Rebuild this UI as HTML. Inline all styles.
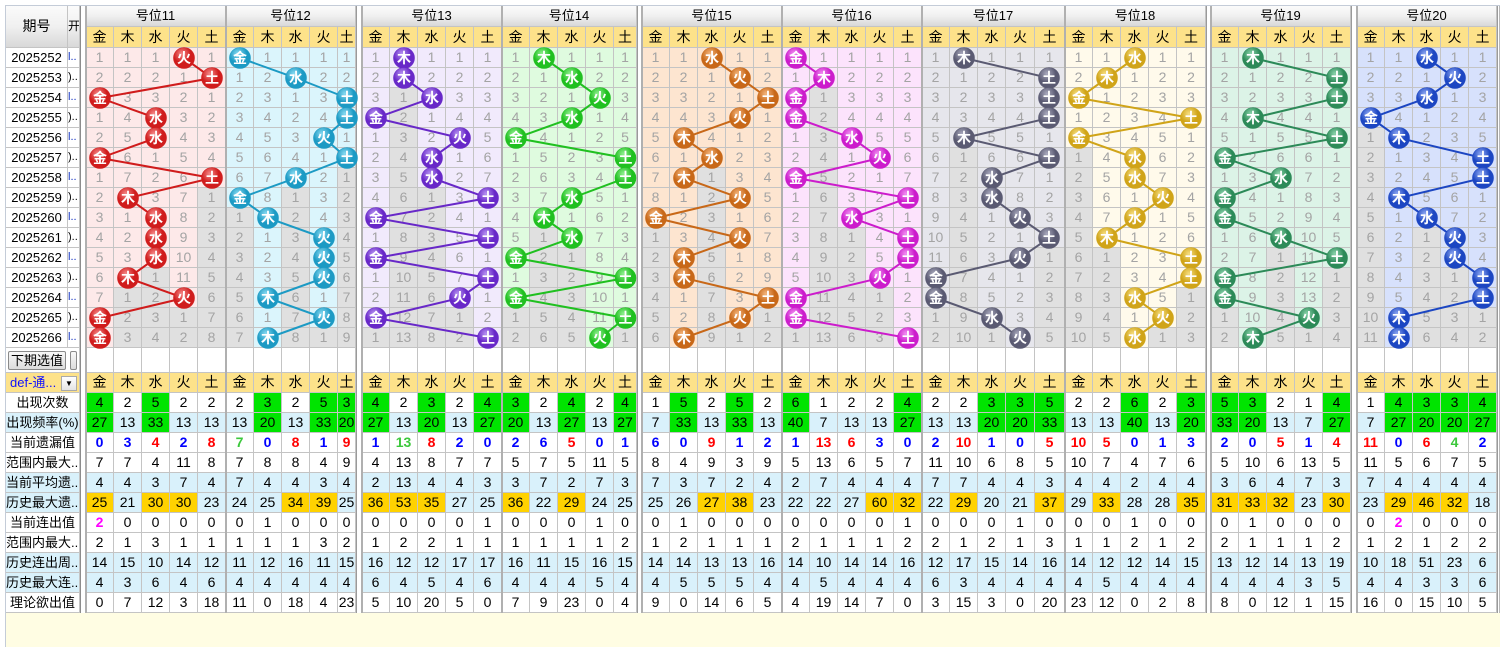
<!DOCTYPE html>
<html><head><meta charset="utf-8">
<style>
body{margin:0;width:1501px;height:647px;position:relative;overflow:hidden;background:#fff;font-family:"Liberation Sans","Noto Sans CJK SC",sans-serif}
.c{position:absolute;box-sizing:border-box;border-right:1px solid #c4c4c4;border-bottom:1px solid #c4c4c4;text-align:center;white-space:nowrap;overflow:hidden}
svg{position:absolute;left:0;top:0}
</style></head><body>
<div id="r"></div>
<svg id="s" width="1501" height="647"></svg>
<script>
var G=[
{n:11,x:86,w:[28,28,28,28,28],c:'#d01c1c',l:'#f58a8a',bg:'#fde9e9',b:[3,4,0,2,2,0,4,1,2,2,2,1,3,0,0]},
{n:12,x:226,w:[28,28,28,28,18],c:'#1c9ac4',l:'#8adbf2',bg:'#dbf5fc',b:[0,2,4,4,3,4,2,0,1,3,3,3,1,3,1]},
{n:13,x:362,w:[28,28,28,28,28],c:'#6828c8',l:'#b894f2',bg:'#f1eafc',b:[1,1,2,0,3,2,2,4,0,4,0,4,3,0,4]},
{n:14,x:502,w:[28,28,28,28,23],c:'#20c020',l:'#90f090',bg:'#dffbdf',b:[1,2,3,2,0,4,4,2,1,2,0,4,0,4,3]},
{n:15,x:642,w:[28,28,28,28,28],c:'#c86818',l:'#f4b67e',bg:'#fde5d0',b:[2,3,4,3,1,2,1,3,0,3,1,1,4,3,1]},
{n:16,x:782,w:[28,28,28,28,28],c:'#cc1ccc',l:'#f290f2',bg:'#fce3fc',b:[0,1,0,0,2,3,0,4,2,4,4,3,0,0,4]},
{n:17,x:922,w:[28,28,28,29,30],c:'#5a5a72',l:'#aaaabe',bg:'#e6e6ec',b:[1,4,4,4,1,4,2,2,3,4,3,0,0,2,3]},
{n:18,x:1065,w:[28,28,28,28,29],c:'#d0a418',l:'#f6de80',bg:'#fffaeb',b:[2,1,0,4,0,2,2,3,2,1,4,4,2,3,2]},
{n:19,x:1211,w:[28,28,28,28,28],c:'#2c8a58',l:'#8cd4ac',bg:'#dcf3e7',b:[1,4,4,1,4,0,2,0,0,2,4,0,0,3,1]},
{n:20,x:1357,w:[28,28,28,28,28],c:'#1c46c2',l:'#8ea8f2',bg:'#d7e1fc',b:[2,3,2,0,1,4,4,1,2,3,3,4,4,1,1]}
];
var ST=[
[[4,2,5,2,2],[27,13,33,13,13],[0,3,4,2,8],[7,7,4,11,8],[4,4,3,7,4],[25,21,30,30,23],[2,0,0,0,0],[2,1,3,1,1],[14,15,10,14,12],[4,3,6,4,6],[0,7,12,3,18]],
[[2,3,2,5,3],[13,20,13,33,20],[7,0,8,1,9],[7,8,8,4,9],[7,4,4,3,4],[24,25,34,39,25],[0,1,0,0,0],[1,1,1,3,2],[11,12,16,11,15],[4,4,4,4,4],[11,0,18,4,23]],
[[4,2,3,2,4],[27,13,20,13,27],[1,13,8,2,0],[4,13,8,7,7],[2,13,4,4,3],[36,53,35,27,25],[0,0,0,0,1],[1,2,2,1,1],[16,12,12,17,17],[6,4,5,4,6],[5,10,20,5,0]],
[[3,2,4,2,4],[20,13,27,13,27],[2,6,5,0,1],[5,7,5,11,5],[3,7,2,7,3],[36,22,29,24,25],[0,0,0,1,0],[1,1,1,1,2],[16,11,15,16,15],[4,4,4,5,4],[7,9,23,0,4]],
[[1,5,2,5,2],[7,33,13,33,13],[6,0,9,1,2],[8,4,9,3,9],[7,3,7,2,4],[25,26,27,38,23],[0,1,0,0,0],[1,2,1,1,1],[14,14,13,13,16],[4,5,5,5,4],[9,0,14,6,5]],
[[6,1,2,2,4],[40,7,13,13,27],[1,13,6,3,0],[5,13,6,5,7],[2,7,4,4,4],[22,22,27,60,32],[0,0,0,0,1],[2,1,1,1,2],[14,10,14,14,16],[4,5,4,4,4],[4,19,14,7,0]],
[[2,2,3,3,5],[13,13,20,20,33],[2,10,1,0,5],[11,10,6,8,5],[7,7,4,4,3],[22,29,20,21,37],[0,0,0,1,0],[2,1,2,1,3],[12,17,15,14,16],[6,3,4,4,4],[3,15,3,0,20]],
[[2,2,6,2,3],[13,13,40,13,20],[10,5,0,1,3],[10,7,4,7,6],[4,4,2,4,4],[29,33,28,28,35],[0,0,1,0,0],[1,1,2,1,2],[14,12,12,14,15],[4,5,4,4,4],[23,12,0,2,8]],
[[5,3,2,1,4],[33,20,13,7,27],[2,0,5,1,4],[5,10,6,13,5],[3,6,4,7,3],[31,33,32,23,30],[0,1,0,0,0],[2,1,1,1,2],[13,12,14,13,19],[4,4,4,3,5],[8,0,12,1,15]],
[[1,4,3,3,4],[7,27,20,20,27],[11,0,6,4,2],[11,5,6,7,5],[7,4,4,4,4],[23,29,46,32,18],[0,2,0,0,0],[1,2,1,2,2],[10,18,51,23,6],[4,4,3,3,6],[16,0,15,10,5]]
];
var GOLD=[[0,2,3],[2,3],[0,1,2],[0,2],[2,3],[3,4],[1,4],[1,4],[0,1,2,4],[1,2,3]];
var WX=['金','木','水','火','土'];
var LB=['出现次数','出现频率(%)','当前遗漏值','范围内最大...','当前平均遗...','历史最大遗...','当前连出值','范围内最大...','历史连出周...','历史最大连...','理论欲出值'];
var BLUE=[1,4,5,8,9];
var h='';
function cell(x,y,w,ht,t,st){h+='<div class="c" style="left:'+x+'px;top:'+y+'px;width:'+w+'px;height:'+ht+'px;line-height:'+(ht-1)+'px;'+(st||'')+'">'+t+'</div>';}
// frame
h+='<div style="position:absolute;left:5px;top:5px;width:1495px;height:642px;border:1px solid #c4ccd8;border-bottom:none;box-sizing:border-box"></div>';
h+='<div style="position:absolute;left:6px;top:613px;width:1494px;height:34px;background:#fffde3"></div>';
var hg='background:linear-gradient(#fbfbfb,#f0f0f0 50%,#d8d8d8);';
// left header
cell(6,6,62,42,'期号',hg+'font-size:14px;line-height:40px;');
cell(68,6,12,42,'开.',hg+'font-size:12px;line-height:40px;');
var ids=[];for(var i=0;i<15;i++){ids.push(2025252+i);}
for(var i=0;i<15;i++){cell(6,48+20*i,62,20,ids[i],'font-size:13px;background:#fff;');cell(68,48+20*i,12,20,(i%2?')..':'l..'),'font-size:11px;color:'+(i%2?'#000':'#1030c0')+';text-align:left;');}
// next row
h+='<div style="position:absolute;left:6px;top:348px;width:74px;height:25px;border-bottom:1px solid #c4c4c4;border-right:1px solid #c4c4c4;box-sizing:border-box;background:#fff"></div>';
h+='<div style="position:absolute;left:8px;top:351px;width:58px;height:19px;border:1px solid #8a8a8a;border-radius:2px;box-sizing:border-box;background:linear-gradient(#f8f8f8,#dcdcdc);font-size:13px;line-height:17px;text-align:center">下期选值</div>';
h+='<div style="position:absolute;left:70px;top:351px;width:7px;height:19px;border:1px solid #8a8a8a;border-radius:2px;box-sizing:border-box;background:linear-gradient(#f8f8f8,#dcdcdc)"></div>';
cell(6,373,74,20,'def-通...','background:#fde28a;color:#1010ff;font-size:13px;text-align:left;padding-left:4px;');
h+='<div style="position:absolute;left:61px;top:376px;width:16px;height:15px;border:1px solid #aaa;background:linear-gradient(#fff,#e4e4e4);box-sizing:border-box;font-size:8px;line-height:13px;text-align:center">▼</div>';
for(var k=0;k<11;k++){cell(6,393+20*k,74,20,LB[k],'font-size:13px;background:'+(BLUE.indexOf(k)>=0?'#d9f1fb':'#fff')+';');}
// left gap
h+='<div style="position:absolute;left:80px;top:6px;width:6px;height:607px;background:#fff;border-left:1px solid #8c8c8c;border-right:1px solid #b8b8b8;box-sizing:border-box"></div>';
// gaps
[[356,362],[637,642],[1206,1211],[1351,1357],[1497,1500]].forEach(function(g){h+='<div style="position:absolute;left:'+g[0]+'px;top:6px;width:'+(g[1]-g[0])+'px;height:607px;background:#fff;border-left:1px solid #9a9a9a;border-right:1px solid #b8b8b8;box-sizing:border-box"></div>';});
var svg='';
svg+='<defs>';
G.forEach(function(g,gi){svg+='<radialGradient id="g'+gi+'" cx="40%" cy="30%" r="70%"><stop offset="0" stop-color="'+g.l+'"/><stop offset="0.6" stop-color="'+g.c+'"/><stop offset="1" stop-color="'+g.c+'"/></radialGradient>';});
svg+='</defs>';
G.forEach(function(g,gi){
  var xs=[],x=g.x;for(var j=0;j<5;j++){xs.push(x);x+=g.w[j];}
  var tw=x-g.x;
  cell(g.x,6,tw,21,'号位'+g.n,hg+'font-size:13px;');
  for(var j=0;j<5;j++)cell(xs[j],27,g.w[j],21,WX[j],'background:#fde28a;font-size:14px;');
  var last=[-1,-1,-1,-1,-1];for(var i=0;i<15;i++)last[g.b[i]]=i;
  var om=[0,0,0,0,0];var pts=[];
  for(var i=0;i<15;i++){
    for(var j=0;j<5;j++){
      var y=48+20*i;
      if(g.b[i]==j){om[j]=0;cell(xs[j],y,g.w[j],20,'','background:'+g.bg+';');}
      else{om[j]++;var grey=i>last[j];cell(xs[j],y,g.w[j],20,om[j],'background:'+(grey?'#e0e0e0':g.bg)+';color:#a4a4a4;font-size:14px;');}
    }
    var bj=g.b[i];pts.push([xs[bj]+Math.min(g.w[bj],28)/2,58+20*i]);
  }
  for(var j=0;j<5;j++)cell(xs[j],348,g.w[j],25,'','background:#fff;');
  for(var j=0;j<5;j++)cell(xs[j],373,g.w[j],20,WX[j],'background:#fde28a;font-size:14px;');
  var S=ST[gi];
  for(var k=0;k<11;k++){
    for(var j=0;j<5;j++){
      var v=S[k][j];var bg=BLUE.indexOf(k)>=0?'#d9f1fb':'#fff';var st='font-size:14px;';
      if((k==0||k==1)&&S[0][j]>=3)bg='#00e400';
      if(k==5&&GOLD[gi].indexOf(j)>=0)bg='#ffd200';
      if(k==2){var a=S[4][j];var col=v>a?'#ff0000':(v==a?'#3cc83c':'#0000ff');st+='font-weight:bold;color:'+col+';';}
      if(k==6&&v>=2)st+='font-weight:bold;color:#ff00ff;';
      cell(xs[j],393+20*k,g.w[j],20,v,'background:'+bg+';'+st);
    }
  }
  // lines
  var d='';pts.forEach(function(p,i){d+=(i?'L':'M')+p[0]+' '+p[1]+' ';});
  svg+='<path d="'+d+'" fill="none" stroke="'+g.c+'" stroke-width="2"/>';
  pts.forEach(function(p,i){
    svg+='<circle cx="'+p[0]+'" cy="'+p[1]+'" r="10.5" fill="url(#g'+gi+')" stroke="'+g.c+'" stroke-width="0.6"/>';
    svg+='<text x="'+p[0]+'" y="'+(p[1]+5)+'" font-size="14" font-weight="bold" fill="#fff" text-anchor="middle" font-family="Liberation Sans,Noto Sans CJK SC,sans-serif">'+WX[g.b[i]]+'</text>';
  });
  // group separator line
  h+='<div style="position:absolute;left:'+(g.x-1)+'px;top:6px;width:2px;height:607px;background:#b0b0b0"></div>';
});
document.getElementById('r').innerHTML=h;
document.getElementById('s').innerHTML=svg;
</script>
</body></html>
